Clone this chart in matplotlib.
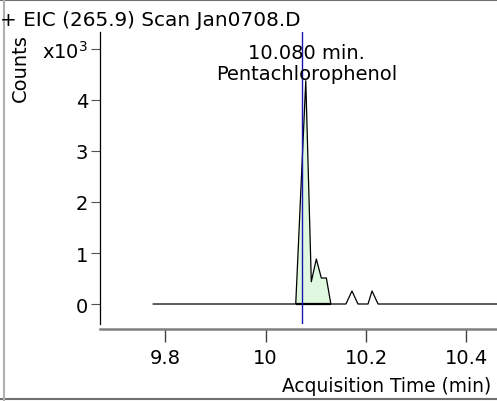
import matplotlib
matplotlib.use('Agg')
import matplotlib.pyplot as plt
from matplotlib.lines import Line2D

# Chromatogram trace (EIC 265.9), counts
times = [9.776, 10.060, 10.080, 10.091, 10.101, 10.111, 10.121, 10.130,
         10.160, 10.172, 10.184, 10.204, 10.212, 10.224, 10.480]
counts = [0, 0, 4378, 437, 882, 510, 510, 0,
          0, 255, 0, 0, 255, 0, 0]

# integrated peak region
peak_start = 10.060
peak_end = 10.130
peak_rt = 10.073
peak_label = '10.080 min.\nPentachlorophenol'

yticks = [0, 1000, 2000, 3000, 4000, 5000]
yticklabels = ['0', '1', '2', '3', '4', r'x10$^3$']
xticks = [9.8, 10.0, 10.2, 10.4]
xticklabels = ['9.8', '10', '10.2', '10.4']

plt.rcParams['font.family'] = 'DejaVu Sans'
plt.rcParams['font.size'] = 14

W, H = 497, 402
fig = plt.figure(figsize=(W / 100, H / 100), dpi=100)
ax = fig.add_axes([100 / W, 1 - 325 / H, 1 - 100 / W, (325 - 33) / H])

# trace
ax.plot(times, counts, color='black', lw=0.9, zorder=3)

# shaded peak
pk_t = [t for t in times if peak_start <= t <= peak_end]
pk_c = [c for t, c in zip(times, counts) if peak_start <= t <= peak_end]
ax.fill_between(pk_t, pk_c, 0, facecolor='#e0f8e0', edgecolor='none', zorder=2)
ax.hlines(0, peak_start, peak_end, color='black', lw=1.6, zorder=3)

ax.axvline(peak_rt, color='#1818b0', lw=1, zorder=4)
ax.text(10.081, 4725, peak_label, ha='center', va='center',
        linespacing=1.15, zorder=5)

ax.set_xlim(9.670, 10.461)
ax.set_ylim(-392, 5333)

ax.spines['top'].set_visible(False)
ax.spines['right'].set_visible(False)
ax.spines['left'].set_color('black')
ax.spines['left'].set_linewidth(0.9)
ax.spines['bottom'].set_position(('outward', 3.5))
ax.spines['bottom'].set_color('#808080')
ax.spines['bottom'].set_linewidth(1.8)

ax.set_xticks(xticks)
ax.set_xticklabels(xticklabels)
ax.set_yticks(yticks)
ax.set_yticklabels(yticklabels)
ax.tick_params(axis='x', direction='out', length=9, width=1, color='#404040', pad=5)
ax.tick_params(axis='y', direction='out', length=6.5, width=0.8, color='#505050', pad=2)

fig.text(0, 1 - 20 / H, '+ EIC (265.9) Scan Jan0708.D', ha='left', va='center',
         fontsize=14.4)
fig.text(20 / W, 1 - 68 / H, 'Counts', rotation=90, ha='center', va='center')
fig.text(491 / W, 1 - 387 / H, 'Acquisition Time (min)', ha='right', va='center',
         fontsize=13.4)

# frame around the picture
fig.add_artist(Line2D([0, 1], [1 - 1 / H, 1 - 1 / H], transform=fig.transFigure,
                      color='#707070', lw=1.5))
fig.add_artist(Line2D([0, 1], [1 - 400 / H, 1 - 400 / H], transform=fig.transFigure,
                      color='#707070', lw=1.5))
fig.add_artist(Line2D([4 / W, 4 / W], [0, 1], transform=fig.transFigure,
                      color='#b0b0b0', lw=1.5))

fig.savefig('out.png', dpi=100)
